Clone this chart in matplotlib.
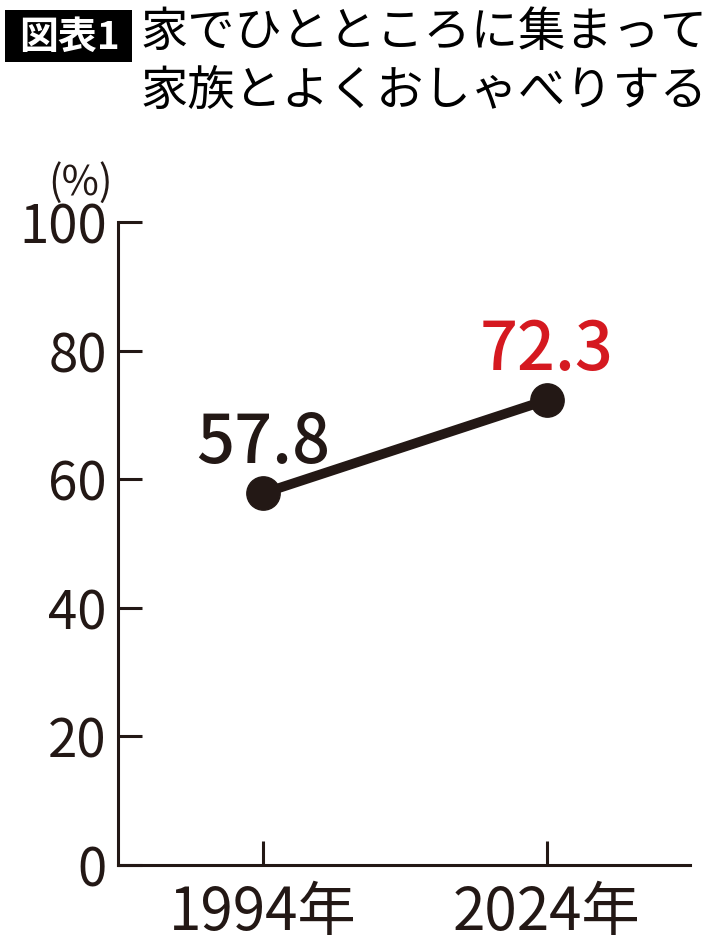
import matplotlib
matplotlib.use("Agg")
import matplotlib.pyplot as plt

plt.rcParams['font.family'] = ['Noto Sans CJK JP', 'DejaVu Sans']

# Data
years = ["1994年", "2024年"]
values = [57.8, 72.3]
value_labels = ["57.8", "72.3"]
label_colors = ["#231815", "#d51920"]
yticks = [0, 20, 40, 60, 80, 100]
title_tag = "図表1"
title_lines = ["家でひとところに集まって", "家族とよくおしゃべりする"]
unit_label = "(%)"

INK = "#231815"

fig = plt.figure(figsize=(7.10, 9.48), dpi=100)
ax = fig.add_axes([118/710, 1-865/948, (690-118)/710, (865-222)/948])

xs = list(range(len(years)))
ax.plot(xs, values, color=INK, linewidth=7, marker='o', markersize=24,
        markerfacecolor=INK, markeredgecolor=INK, solid_capstyle='round', zorder=3,
        clip_on=False)

for x, v, t, c in zip(xs, values, value_labels, label_colors):
    ax.annotate(t, (x, v), xytext=(0, 21.5), textcoords='offset points',
                ha='center', va='baseline', fontsize=48, color=c, fontweight='medium')

ax.set_xlim(-0.51, 1.505)
ax.set_ylim(0, 100)
ax.set_yticks(yticks)
ax.set_yticklabels([str(t) for t in yticks])
ax.set_xticks(xs)
ax.set_xticklabels(years)

for side in ['top', 'right']:
    ax.spines[side].set_visible(False)
for side in ['left', 'bottom']:
    ax.spines[side].set_linewidth(2.2)
    ax.spines[side].set_color(INK)

ax.tick_params(axis='y', direction='in', length=17, width=2.2, color=INK,
               labelsize=38, pad=8, labelcolor=INK)
ax.tick_params(axis='x', direction='in', length=17, width=2.2, color=INK,
               labelsize=42, pad=13, labelcolor=INK)

# Unit label
fig.text(80/710, 1-183/948, unit_label, ha='center', va='center', fontsize=29, color=INK)

# Title tag box
fig.patches.append(plt.Rectangle((5/710, 1-62/948), 127/710, 52/948,
                                 transform=fig.transFigure, facecolor='black',
                                 edgecolor='none'))
fig.text(70/710, 1-37/948, title_tag, ha='center', va='center', fontsize=28,
         color='white', fontweight='bold')

fig.text(141/710, 1-33/948, title_lines[0], ha='left', va='center', fontsize=34, color='black')
fig.text(141/710, 1-93/948, title_lines[1], ha='left', va='center', fontsize=34, color='black')

fig.savefig("out.png", dpi=100, facecolor='white')
